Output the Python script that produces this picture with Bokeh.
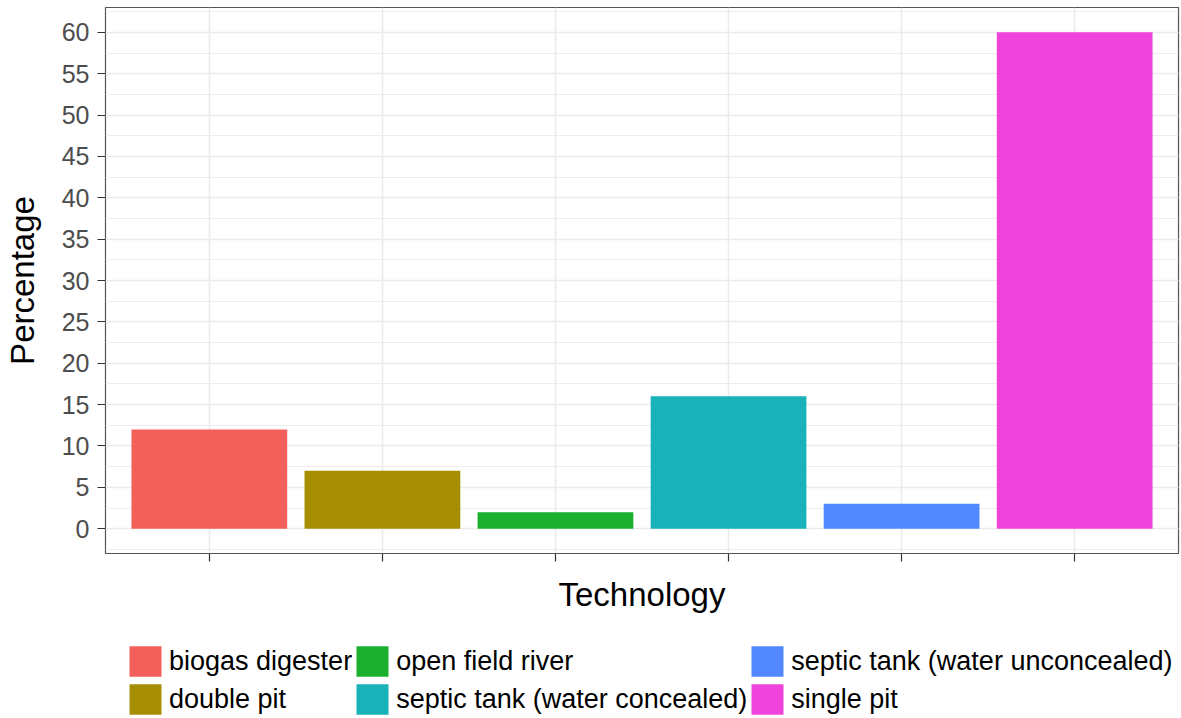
from bokeh.plotting import figure
from bokeh.layouts import column
from bokeh.models import (ColumnDataSource, FactorRange, Legend, LegendItem,
                          SingleIntervalTicker, Range1d)
from bokeh.embed import file_html
from bokeh.resources import INLINE

technologies = ["biogas digester", "double pit", "open field river",
                "septic tank (water concealed)", "septic tank (water unconcealed)",
                "single pit"]
percentages = [12, 7, 2, 16, 3, 60]
colors = ["#F3605B", "#A68E03", "#1BB02E", "#19B2B8", "#5188FF", "#F043DC"]

FONT = "Liberation Sans"

x_range = FactorRange(factors=technologies, range_padding=0.1,
                      range_padding_units="absolute")
src = ColumnDataSource(dict(tech=technologies, pct=percentages, color=colors))

# ---- main chart ----
p = figure(x_range=x_range, y_range=Range1d(-3, 63),
           width=1181, height=640,
           min_border_left=104, min_border_right=3, min_border_top=7,
           min_border_bottom=87,
           output_backend="svg", toolbar_location=None)

p.vbar(x="tech", top="pct", width=0.9, bottom=0, color="color", source=src,
       line_color=None)

p.background_fill_color = "white"
p.border_fill_color = "white"
p.outline_line_color = "#555555"
p.outline_line_width = 1.2

p.yaxis.ticker = SingleIntervalTicker(interval=5, num_minor_ticks=2)
p.ygrid.grid_line_color = "#EBEBEB"
p.ygrid.grid_line_width = 1.6
p.ygrid.minor_grid_line_color = "#EBEBEB"
p.ygrid.minor_grid_line_width = 0.9
p.xgrid.grid_line_color = "#EBEBEB"
p.xgrid.grid_line_width = 1.6

for ax in (p.xaxis[0], p.yaxis[0]):
    ax.axis_line_color = None
    ax.major_tick_line_color = "#333333"
    ax.major_tick_line_width = 1.2
    ax.major_tick_out = 8
    ax.major_tick_in = 0
    ax.minor_tick_line_color = None
    ax.major_label_text_font = FONT
    ax.major_label_text_color = "#4D4D4D"
    ax.major_label_text_font_size = "25px"
    ax.axis_label_text_font = FONT
    ax.axis_label_text_font_size = "33px"
    ax.axis_label_text_font_style = "normal"
    ax.axis_label_text_color = "black"

p.xaxis.major_label_text_color = None
p.xaxis.major_label_text_font_size = "1px"
p.xaxis.major_label_standoff = 0
p.xaxis.axis_label = "Technology"
p.xaxis.axis_label_standoff = 14
p.yaxis.axis_label = "Percentage"
p.yaxis.axis_label_standoff = 18
p.yaxis.major_label_standoff = 8

# ---- legend strip below the chart ----
q = figure(x_range=x_range, y_range=Range1d(100, 101),
           width=1181, height=78, min_border=0,
           x_axis_location=None, y_axis_location=None,
           output_backend="svg", toolbar_location=None)
q.grid.visible = False
q.outline_line_color = None
q.background_fill_color = "white"
q.border_fill_color = "white"
r2 = q.vbar(x="tech", top="pct", width=0.9, bottom=0, color="color",
            source=src, line_color=None)

items = [LegendItem(label=t, renderers=[r2], index=i)
         for i, t in enumerate(technologies)]
legend = Legend(items=items, orientation="vertical", ncols=3,
                location=(20, 0), border_line_color=None,
                background_fill_alpha=0, glyph_width=40, glyph_height=38,
                label_text_font=FONT, label_text_font_size="27px",
                label_text_color="black",
                label_standoff=4, spacing=0, padding=0, margin=0,
                label_height=38)
q.add_layout(legend, "center")

layout = column(p, q, spacing=0)
open("out.html", "w").write(file_html(layout, INLINE))
